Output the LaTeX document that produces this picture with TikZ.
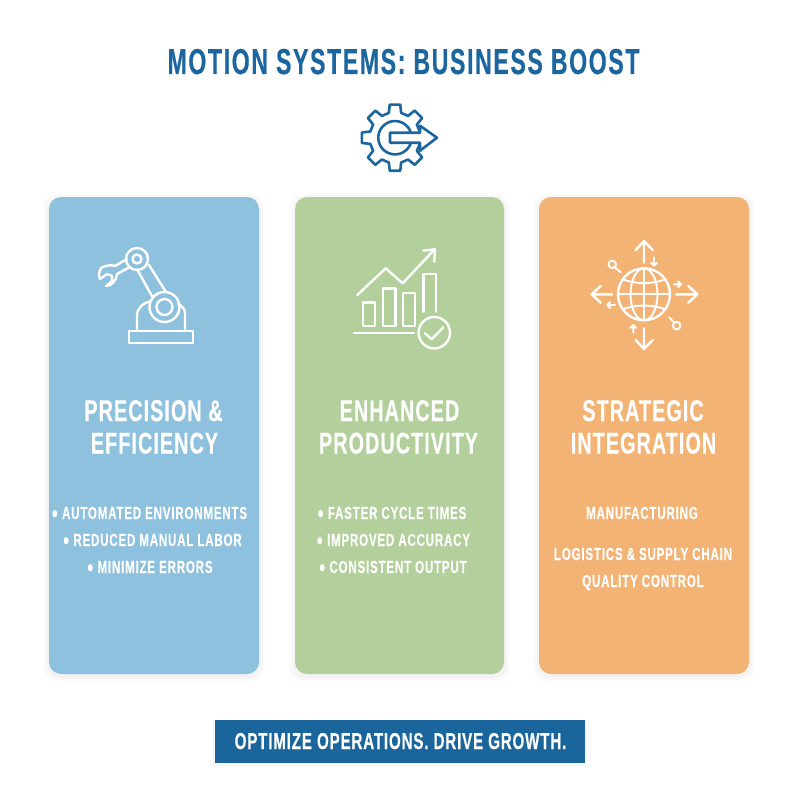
\documentclass[tikz,border=0pt]{standalone}
\usepackage{fontspec}
\setmainfont{Liberation Sans}
\newfontfamily\titlefont[FakeStretch=0.64,LetterSpace=4.6,FakeBold=0.4]{Liberation Sans Bold}
\newfontfamily\headfont[FakeStretch=0.66,LetterSpace=3.5,FakeBold=0.3]{Liberation Sans Bold}
\newfontfamily\listfont[FakeStretch=0.66,LetterSpace=4.6,FakeBold=0.2]{Liberation Sans Bold}
\newfontfamily\bannerfont[FakeStretch=0.66,LetterSpace=3.5,FakeBold=0.3]{Liberation Sans Bold}
\definecolor{deep}{HTML}{1B669F}
\definecolor{cardblue}{HTML}{8EC1DE}
\definecolor{cardgreen}{HTML}{B3CF9C}
\definecolor{cardorange}{HTML}{F2B375}
\definecolor{banner}{HTML}{1A659C}
\tikzset{
  titletext/.style={anchor=base,text=deep,font=\titlefont\fontsize{36}{36}\selectfont},
  headtext/.style={anchor=base,text=white,font=\headfont\fontsize{30}{30}\selectfont},
  listtext/.style={anchor=base,text=white,font=\listfont\fontsize{17.5}{17.5}\selectfont},
  bannertext/.style={anchor=base,text=white,font=\bannerfont\fontsize{23}{23}\selectfont},
  iconline/.style={draw=white,line width=2.4pt,line cap=round,line join=round},
  thinline/.style={draw=white,line width=1.9pt,line cap=round,line join=round},
  gearline/.style={draw=deep,line width=2.6pt,line join=round},
}
\newcommand\blt{{\fontsize{25}{25}\selectfont\raisebox{-3pt}{•}}\hspace{0.25em}}
\newcommand\softcard[5]{%
  \foreach \g/\o in {6/0.012,4/0.016,2/0.02}{
    \fill[black,opacity=\o,rounded corners=13pt] (#1-\g,#2-\g+2) rectangle (#3+\g,#4+\g+2);
  }
  \path[fill=#5,rounded corners=12pt] (#1,#2) rectangle (#3,#4);
}
\begin{document}
\begin{tikzpicture}[x=1pt,y=-1pt]
\useasboundingbox (0,0) rectangle (800,800);
\fill[white] (0,0) rectangle (800,800);
\softcard{49}{197}{259}{674}{cardblue}
\softcard{295}{197}{504}{674}{cardgreen}
\softcard{539}{197}{749}{674}{cardorange}

\node[titletext] (title) at (403.5,74) {MOTION SYSTEMS: BUSINESS BOOST};

% gear icon
\begin{scope}[shift={(395,137.7)}]
  \draw[gearline]
    \foreach \a [count=\i from 0] in {0,45,...,315}{
      \ifnum\i=0 (\a-9:33.5) \else -- (\a-9:33.5) \fi
      -- (\a+9:33.5) -- (\a+14:25.5) -- (\a+31:25.5)
    } -- cycle;
  \draw[gearline] (18:16.7) arc (18:342:16.7);
  \fill[white] (-5,-5) -- (25,-5) -- (25,-12) -- (42,0) -- (25,13) -- (25,5) -- (-5,5) -- cycle;
  \draw[gearline] (-5,-5) -- (25,-5) -- (25,-12) -- (42,0) -- (25,13) -- (25,5) -- (-5,5) -- cycle;
\end{scope}

% robot arm
\begin{scope}
  \path[iconline] (137,259) circle (11);
  \path[iconline] (137,259) circle (4.5);
  \path[iconline] (164.5,307) circle (15);
  \path[iconline] (164.5,307) circle (8);
  \path[iconline] (129,331) rectangle (193,343);
  \path[iconline] (137,330) -- (137,316) .. controls (137,308) and (143,303) .. (151,301);
  \path[iconline] (185,330) -- (185,313) .. controls (185,309) and (182,306) .. (178,304);
  \path[iconline] (138,271) -- (153,298);
  \path[iconline] (149,265) -- (166,292);
  \path[iconline] (127,259) -- (115,266);
  \path[iconline] (130,267) -- (117,274);
  \path[iconline] (115,266) .. controls (108,264) and (103,267) .. (101,268)
     .. controls (99,273) and (98,275) .. (100,279) -- (107,274) -- (112,276) -- (112,281) -- (106,286)
     .. controls (111,286) and (116,282) .. (117,274);
\end{scope}

% chart
\begin{scope}
  \path[iconline] (354,332.7) -- (414,332.7);
  \path[iconline] (362.7,302.3) rectangle (374.7,326);
  \path[iconline] (382.7,288.3) rectangle (395.3,326);
  \path[iconline] (402.7,292.7) rectangle (415,326);
  \path[iconline] (423.3,311.7) -- (423.3,274) -- (435.7,274) -- (435.7,311.7);
  \path[iconline] (434.3,332.7) circle (15.7);
  \path[iconline] (425,333.3) -- (431.7,339.3) -- (443.3,327.3);
  \path[iconline] (357.3,295) -- (385.7,268.3) -- (402.7,283.3) -- (433.3,250.7);
  \path[iconline] (423.3,250.7) -- (435,249.3) -- (434.3,261.7);
\end{scope}

% globe
\begin{scope}[shift={(644,294.3)}]
  \path[iconline] (0,0) circle (26);
  \path[thinline] (0,0) ellipse (13.5 and 26);
  \path[thinline] (0,-26) -- (0,26);
  \path[thinline] (-26,0) -- (26,0);
  \path[thinline] (-21,-15) .. controls (-10,-10) and (10,-10) .. (21,-15);
  \path[thinline] (-21,15) .. controls (-10,10) and (10,10) .. (21,15);
\end{scope}
\begin{scope}
  \path[iconline] (644,262.7) -- (644,241) (635.7,250) -- (644,241) -- (652.7,250);
  \path[iconline] (644,328.3) -- (644,349) (635.7,340) -- (644,349) -- (652.7,340);
  \path[iconline] (612.3,294.3) -- (591.7,294.3) (600.7,286) -- (591.7,294.3) -- (600.7,302.7);
  \path[iconline] (676,294.3) -- (697.3,294.3) (688.3,286) -- (697.3,294.3) -- (688.3,302.7);
  \path[thinline] (654,257.3) -- (654,265.7) (651,262.7) -- (654,265.7) -- (657,262.7);
  \path[thinline] (674,284.3) -- (681,284.3) (678,281.3) -- (681,284.3) -- (678,287.3);
  \path[thinline] (615,305) -- (607.3,305) (610.3,302) -- (607.3,305) -- (610.3,308);
  \path[thinline] (633.3,332.7) -- (633.3,325) (630.3,328) -- (633.3,325) -- (636.3,328);
  \path[thinline] (612.3,264.3) circle (3.8) (614.7,267.3) -- (620.7,272.3);
  \path[thinline] (676.7,325.7) circle (3.8) (674,322.7) -- (669.3,317.3);
\end{scope}

% headings
\node[headtext] (h1a) at (153.5,421) {PRECISION \&};
\node[headtext] (h1b) at (154.5,453.5) {EFFICIENCY};
\node[headtext] (h2a) at (399.5,421) {ENHANCED};
\node[headtext] (h2b) at (398.5,453.5) {PRODUCTIVITY};
\node[headtext] (h3a) at (643,421) {STRATEGIC};
\node[headtext] (h3b) at (643.5,453.5) {INTEGRATION};

% lists
\node[listtext] (l1a) at (149.5,519) {\blt AUTOMATED ENVIRONMENTS};
\node[listtext] (l1b) at (152.5,546) {\blt REDUCED MANUAL LABOR};
\node[listtext] (l1c) at (150,573) {\blt MINIMIZE ERRORS};
\node[listtext] (l2a) at (392,519) {\blt FASTER CYCLE TIMES};
\node[listtext] (l2b) at (393.5,546) {\blt IMPROVED ACCURACY};
\node[listtext] (l2c) at (393,573) {\blt CONSISTENT OUTPUT};
\node[listtext] (l3a) at (642,519) {MANUFACTURING};
\node[listtext] (l3b) at (643,560) {LOGISTICS \& SUPPLY CHAIN};
\node[listtext] (l3c) at (643,587) {QUALITY CONTROL};

% banner
\fill[black,opacity=0.03] (213,720) rectangle (587,767);
\fill[banner] (215,720) rectangle (585,763);
\node[bannertext] (bn) at (400.5,749) {OPTIMIZE OPERATIONS. DRIVE GROWTH.};
\end{tikzpicture}
\end{document}
